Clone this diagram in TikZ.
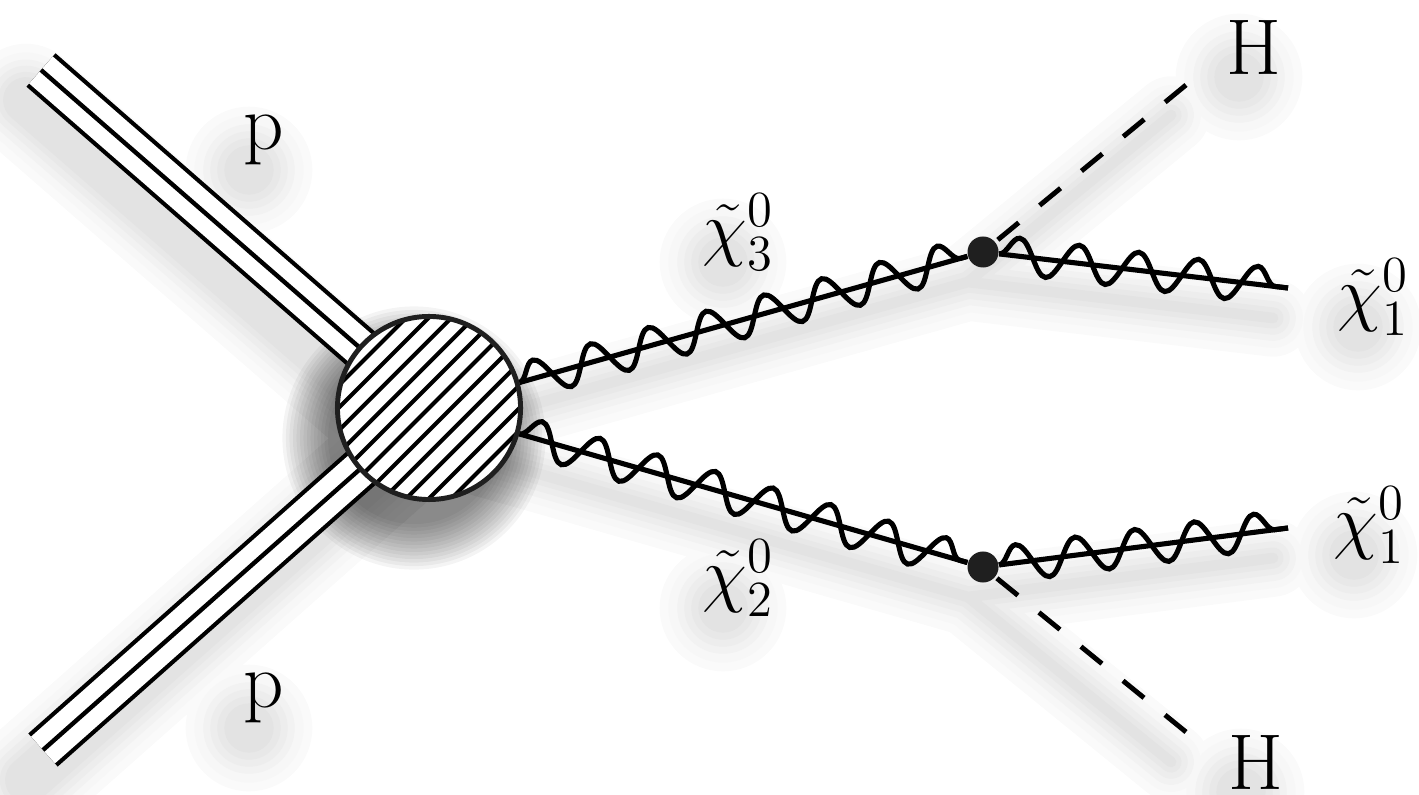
\documentclass[tikz,border=0pt]{standalone}
\usetikzlibrary{decorations.pathmorphing}
\pgfdeclarelayer{shadow}
\pgfdeclarelayer{lines}
\pgfsetlayers{shadow,lines,main}
\tikzset{
  lbl/.style={inner sep=0pt, font=\fontsize{22.5}{27}\selectfont},
  blob/.style={circle, draw=black!88, line width=1.4pt, fill=white, minimum size=1.83cm, inner sep=0pt,
    path picture={\foreach \d in {-8,...,8}
      \draw[black, line width=1.15pt] (path picture bounding box.center) ++(\d*11.3-150,\d*11.3+150) -- ++(300,-300);}},
  vtx/.style={circle, fill=black!88, minimum size=0.31cm, inner sep=0pt},
  proton/.style={line width=12.6pt, postaction={draw=white, line width=10.2pt}, postaction={draw=black, line width=1.25pt}},
  gaugino/.style={line width=1.45pt, postaction={draw, decorate, decoration={snake, amplitude=0.18cm, segment length=0.6cm}}},
  higgs/.style={line width=1.4pt, dash pattern=on 7.7pt off 7.7pt},
}
\begin{document}
\begin{tikzpicture}[x=0.01cm, y=-0.01cm]
  \useasboundingbox (0,0) rectangle (1419,795);
  % vertices and free ends
  \node[blob] (blob) at (429,408) {};
  \node[vtx] (v1) at (983,252) {};
  \node[vtx] (v2) at (983,567) {};
  \coordinate (pu) at (41,70); \coordinate (pd) at (43,750);
  \coordinate (c1) at (1288,288); \coordinate (c2) at (1288,528);
  \coordinate (h1) at (1186,85); \coordinate (h2) at (1186,732);
  % labels
  \node[lbl] (lpu) at (264,140) {p};
  \node[lbl] (lpd) at (264,698) {p};
  \node[lbl] (lh1) at (1254,47) {H};
  \node[lbl] (lh2) at (1256,762) {H};
  \node[lbl] (lx3) at (738,232) {$\tilde\chi^0_3$};
  \node[lbl] (lx2) at (738,578) {$\tilde\chi^0_2$};
  \node[lbl] (lx1a) at (1373,297) {$\tilde\chi^0_1$};
  \node[lbl] (lx1b) at (1369,525) {$\tilde\chi^0_1$};
  % propagators
  \begin{pgfonlayer}{lines}
    \draw[proton] (pu) -- (blob.center);
    \draw[proton] (pd) -- (blob.center);
    \draw[gaugino] (blob) -- (v1);
    \draw[gaugino] (v1) -- (c1);
    \draw[gaugino] (blob) -- (v2);
    \draw[gaugino] (v2) -- (c2);
    \draw[higgs] (h1) -- (v1);
    \draw[higgs] (h2) -- (v2);
  \end{pgfonlayer}
  % soft drop shadow
  \begin{pgfonlayer}{shadow}
    \begin{scope}[transform canvas={shift={(-0.15cm,-0.3cm)}}, line cap=round]
      \foreach \w/\k/\r in {22/2/12, 17/3/9.5, 13/5/7, 9.5/7/5, 6/9/3, 3/11/1}{
        \draw[black!\k, line width=\w pt+10pt] (pu) -- (blob.center) (pd) -- (blob.center);
        \draw[black!\k, line width=\w pt] (blob.center) -- (v1.center) -- (c1) (blob.center) -- (v2.center) -- (c2)
          (v1.center) -- (h1) (v2.center) -- (h2);
        \foreach \n in {lpu,lpd,lh1,lh2,lx3,lx2,lx1a,lx1b}
          \fill[black!\k] (\n) circle[radius=\r pt+6pt];
      }
      \foreach \i in {0,...,13}
        \fill[black, opacity=0.045] (blob.center) circle[radius=0.86cm+\i*0.035cm];
    \end{scope}
  \end{pgfonlayer}
\end{tikzpicture}
\end{document}
